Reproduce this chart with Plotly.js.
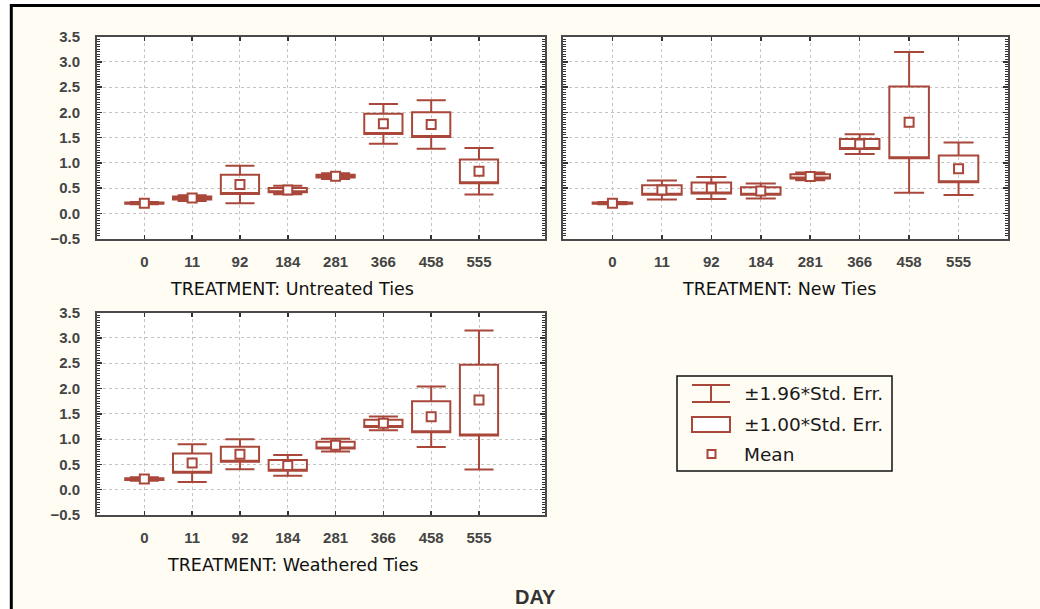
<!DOCTYPE html>
<html>
<head>
<meta charset="utf-8">
<script src="https://cdn.plot.ly/plotly-3.0.1.min.js"></script>
<style>html,body{margin:0;padding:0;background:#fff;}#chart{width:1040px;height:609px;}</style>
</head>
<body>
<div id="chart"></div>
<script>
// ---- data ----
const days = ['0', '11', '92', '184', '281', '366', '458', '555'];

const untreatedMean = [0.20, 0.30, 0.57, 0.46, 0.735, 1.77, 1.755, 0.83];
const untreatedSE   = [0.012, 0.03, 0.19, 0.042, 0.028, 0.20, 0.245, 0.235];

const newMean = [0.20, 0.46, 0.50, 0.44, 0.73, 1.37, 1.80, 0.88];
const newSE   = [0.012, 0.095, 0.11, 0.075, 0.04, 0.10, 0.71, 0.265];

const weatheredMean = [0.21, 0.525, 0.70, 0.48, 0.88, 1.31, 1.44, 1.77];
const weatheredSE   = [0.018, 0.19, 0.15, 0.105, 0.065, 0.07, 0.305, 0.70];

const panelTitles = ['TREATMENT: Untreated Ties', 'TREATMENT: New Ties', 'TREATMENT: Weathered Ties'];
const legendLabels = ['\u00b11.96*Std. Err.', '\u00b11.00*Std. Err.', 'Mean'];
const yTicks = [-0.5, 0, 0.5, 1, 1.5, 2, 2.5, 3, 3.5];
const zSE = 1.96;

// ---- styling ----
const RED = '#a8473a';
const W = 1040, H = 609;
const px = x => x / W;
const py = y => 1 - y / H;

function panel(means, ses, xa, ya) {
  const q1 = means.map((m, i) => m - ses[i]);
  const q3 = means.map((m, i) => m + ses[i]);
  const lo = means.map((m, i) => m - zSE * ses[i]);
  const hi = means.map((m, i) => m + zSE * ses[i]);
  return [
    {
      type: 'box', x: days, q1: q1, median: q1, q3: q3,
      lowerfence: lo, upperfence: hi,
      width: 0.8, whiskerwidth: 0.76, boxpoints: false,
      fillcolor: 'rgba(255,255,255,0)',
      line: {color: RED, width: 2},
      xaxis: xa, yaxis: ya, hoverinfo: 'skip', showlegend: false
    },
    {
      type: 'scatter', mode: 'markers', x: days, y: means,
      marker: {symbol: 'square', size: 9, color: '#ffffff', line: {color: RED, width: 2}},
      xaxis: xa, yaxis: ya, hoverinfo: 'skip', showlegend: false, cliponaxis: false
    }
  ];
}

const data = [].concat(
  panel(untreatedMean, untreatedSE, 'x', 'y'),
  panel(newMean, newSE, 'x2', 'y2'),
  panel(weatheredMean, weatheredSE, 'x3', 'y3')
);

function xAxis(dom, range, anchor) {
  return {
    type: 'category', categoryorder: 'array', categoryarray: days,
    domain: dom, range: range, anchor: anchor,
    showline: true, linecolor: '#4a4a4a', linewidth: 2, mirror: 'ticks',
    ticks: 'inside', ticklen: 4, tickwidth: 1.5, tickcolor: '#333',
    showgrid: true, gridcolor: '#c4c4c4', griddash: 'dot', gridwidth: 1,
    zeroline: false,
    tickfont: {family: 'Liberation Sans, Arial, sans-serif', size: 15, color: '#444', weight: 'bold'},
    ticklabelstandoff: 8,
    fixedrange: true
  };
}
function yAxis(dom, anchor, showLabels) {
  return {
    domain: dom, range: [-0.5, 3.5], anchor: anchor,
    tickvals: yTicks, tickformat: '.1f', showticklabels: showLabels,
    showline: true, linecolor: '#4a4a4a', linewidth: 2, mirror: 'ticks',
    ticks: 'inside', ticklen: 5, tickwidth: 1.5, tickcolor: '#333',
    minor: {dtick: 0.05, ticks: 'inside', ticklen: 3, tickwidth: 1, tickcolor: '#333', showgrid: false},
    showgrid: true, gridcolor: '#c4c4c4', griddash: 'dot', gridwidth: 1,
    zeroline: false,
    tickfont: {family: 'Liberation Sans, Arial, sans-serif', size: 15, color: '#444', weight: 'bold'},
    ticklabelstandoff: 12,
    fixedrange: true
  };
}

const topY = [py(238.5), py(36.5)];
const botY = [py(515), py(312.5)];
const leftX = [px(97), px(544.5)];
const rightX = [px(563), px(1008)];

const titleFont = {family: 'DejaVu Sans, sans-serif', size: 17.5, color: '#111'};
const legFont = {family: 'DejaVu Sans, sans-serif', size: 18.5, color: '#1a1a1a'};

const layout = {
  width: W, height: H, autosize: false,
  margin: {l: 0, r: 0, t: 0, b: 0, pad: 0},
  paper_bgcolor: '#fffcf4', plot_bgcolor: '#ffffff',
  showlegend: false,
  xaxis: xAxis(leftX, [-0.99, 8.37], 'y'),
  yaxis: yAxis(topY, 'x', true),
  xaxis2: xAxis(rightX, [-1.0, 8.0], 'y2'),
  yaxis2: yAxis(topY, 'x2', false),
  xaxis3: xAxis(leftX, [-0.99, 8.37], 'y3'),
  yaxis3: yAxis(botY, 'x3', true),
  annotations: [
    {xref: 'paper', yref: 'paper', x: px(292), y: py(289.5), text: panelTitles[0], showarrow: false, xanchor: 'center', yanchor: 'middle', font: titleFont},
    {xref: 'paper', yref: 'paper', x: px(779), y: py(289.5), text: panelTitles[1], showarrow: false, xanchor: 'center', yanchor: 'middle', font: titleFont},
    {xref: 'paper', yref: 'paper', x: px(292), y: py(564.5), text: panelTitles[2], showarrow: false, xanchor: 'center', yanchor: 'middle', font: titleFont},
    {xref: 'paper', yref: 'paper', x: px(535), y: py(597), text: 'DAY', showarrow: false, xanchor: 'center', yanchor: 'middle', font: {family: 'Liberation Sans, Arial, sans-serif', size: 20, color: '#333', weight: 'bold'}},
    {xref: 'paper', yref: 'paper', x: px(742), y: py(393.5), text: legendLabels[0], showarrow: false, xanchor: 'left', yanchor: 'middle', font: legFont},
    {xref: 'paper', yref: 'paper', x: px(742), y: py(424.5), text: legendLabels[1], showarrow: false, xanchor: 'left', yanchor: 'middle', font: legFont},
    {xref: 'paper', yref: 'paper', x: px(742), y: py(454), text: legendLabels[2], showarrow: false, xanchor: 'left', yanchor: 'middle', font: legFont}
  ],
  shapes: [
    // outer white margin and black frame
    {type: 'rect', xref: 'paper', yref: 'paper', x0: 0, x1: px(10), y0: 0, y1: 1, fillcolor: '#ffffff', line: {width: 0}},
    {type: 'rect', xref: 'paper', yref: 'paper', x0: 0, x1: 1, y0: py(4), y1: 1, fillcolor: '#ffffff', line: {width: 0}},
    {type: 'line', xref: 'paper', yref: 'paper', x0: px(11.3), x1: px(11.3), y0: 0, y1: py(4), line: {color: '#000', width: 3}},
    {type: 'line', xref: 'paper', yref: 'paper', x0: px(10), x1: 1, y0: py(5.5), y1: py(5.5), line: {color: '#000', width: 3}},
    // legend frame
    {type: 'rect', xref: 'paper', yref: 'paper', x0: px(677), x1: px(892), y0: py(471), y1: py(376), line: {color: '#111', width: 1.5}},
    // legend: whisker glyph
    {type: 'line', xref: 'paper', yref: 'paper', x0: px(692), x1: px(730), y0: py(385), y1: py(385), line: {color: RED, width: 2}},
    {type: 'line', xref: 'paper', yref: 'paper', x0: px(692), x1: px(730), y0: py(402), y1: py(402), line: {color: RED, width: 2}},
    {type: 'line', xref: 'paper', yref: 'paper', x0: px(711), x1: px(711), y0: py(385), y1: py(402), line: {color: RED, width: 2}},
    // legend: box glyph
    {type: 'rect', xref: 'paper', yref: 'paper', x0: px(692), x1: px(730), y0: py(432), y1: py(417), fillcolor: '#ffffff', line: {color: RED, width: 2}},
    // legend: mean glyph
    {type: 'rect', xref: 'paper', yref: 'paper', x0: px(707.5), x1: px(715.5), y0: py(458), y1: py(450), fillcolor: '#ffffff', line: {color: RED, width: 2}}
  ]
};

Plotly.newPlot('chart', data, layout, {staticPlot: true, displayModeBar: false});
</script>
</body>
</html>
